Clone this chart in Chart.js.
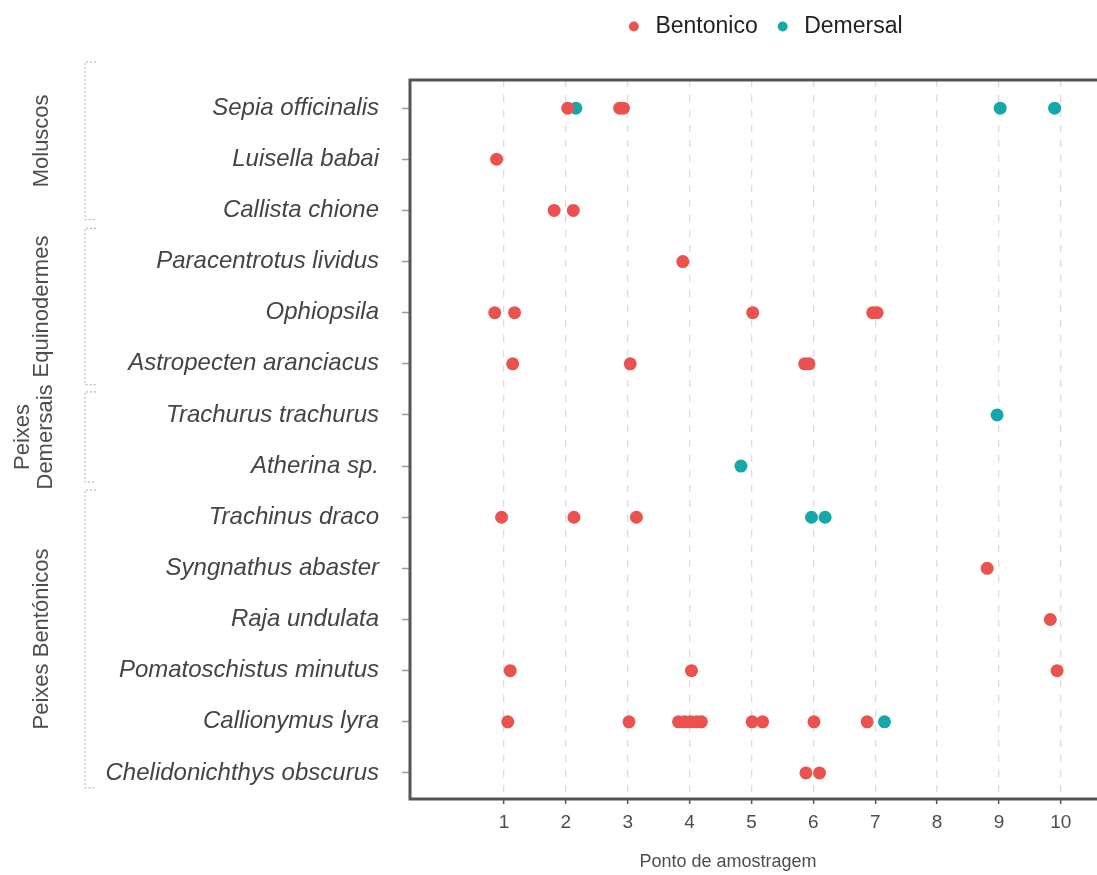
<!DOCTYPE html>
<html>
<head>
<meta charset="utf-8">
<script src="https://cdn.jsdelivr.net/npm/chart.js@4.4.1/dist/chart.umd.min.js"></script>
<style>
  html, body { margin: 0; padding: 0; background: #fff; overflow: hidden; }
</style>
</head>
<body>
<canvas id="chart" width="1097" height="875"></canvas>
<script>
const species = [
  'Sepia officinalis', 'Luisella babai', 'Callista chione',
  'Paracentrotus lividus', 'Ophiopsila', 'Astropecten aranciacus',
  'Trachurus trachurus', 'Atherina sp.',
  'Trachinus draco', 'Syngnathus abaster', 'Raja undulata',
  'Pomatoschistus minutus', 'Callionymus lyra', 'Chelidonichthys obscurus'
];
// sampling points per species, one list per row
const bentonico = [
  [2.03, 2.87, 2.93], [0.88], [1.81, 2.12],
  [3.89], [0.85, 1.17, 5.02, 6.96, 7.03], [1.14, 3.04, 5.86, 5.93],
  [], [],
  [0.96, 2.13, 3.14], [8.81], [9.83],
  [1.10, 4.03, 9.94],
  [1.06, 3.02, 3.82, 3.92, 4.01, 4.11, 4.19, 5.01, 5.18, 6.01, 6.87],
  [5.88, 6.10]
];
const demersal = [
  [2.16, 9.02, 9.90], [], [],
  [], [], [],
  [8.97], [4.83],
  [5.97, 6.19], [], [],
  [],
  [7.15],
  []
];
const xTicks = [1, 2, 3, 4, 5, 6, 7, 8, 9, 10];
const xTitle = 'Ponto de amostragem';
const groups = [['Moluscos'], ['Equinodermes'], ['Peixes', 'Demersais'], ['Peixes Bentónicos']];
const groupRows = [[-0.9, 2.18], [2.35, 5.41], [5.55, 7.31], [7.47, 13.29]];

const font = '"Liberation Sans", Arial, sans-serif';
const textColor = '#4d4d4d';

function toPoints(rows) {
  const pts = [];
  rows.forEach((xs, i) => xs.forEach(x => pts.push({x: x, y: i})));
  return pts;
}

// extra room under the legend, and nudge it a bit to the right
const legendGap = {
  id: 'legendGap',
  beforeInit(chart) {
    const fit = chart.legend.fit;
    chart.legend.fit = function () {
      fit.bind(chart.legend)();
      this.height += 32;
    };
  },
  afterLayout(chart) {
    chart.legend.left += 13;
    chart.legend.right += 13;
  }
};

const frame = {
  id: 'frame',
  afterDatasetsDraw(chart) {
    const {ctx, chartArea: a} = chart;
    ctx.save();
    ctx.strokeStyle = '#555';
    ctx.lineWidth = 3;
    ctx.beginPath();
    ctx.moveTo(chart.width, a.top);
    ctx.lineTo(a.left, a.top);
    ctx.lineTo(a.left, a.bottom);
    ctx.lineTo(chart.width, a.bottom);
    ctx.stroke();
    ctx.restore();
  }
};

const brackets = {
  id: 'brackets',
  afterDraw(chart) {
    const {ctx} = chart;
    const y = chart.scales.y;
    ctx.save();
    groups.forEach((lines, i) => {
      const y1 = y.getPixelForValue(groupRows[i][0]);
      const y2 = y.getPixelForValue(groupRows[i][1]);
      ctx.strokeStyle = '#a8a8a8';
      ctx.lineWidth = 1;
      ctx.setLineDash([2, 2]);
      ctx.beginPath();
      ctx.moveTo(96, y1); ctx.lineTo(85, y1); ctx.lineTo(85, y2); ctx.lineTo(96, y2);
      ctx.stroke();
      ctx.setLineDash([]);
      ctx.fillStyle = textColor;
      ctx.font = '22px ' + font;
      ctx.textAlign = 'center';
      ctx.textBaseline = 'middle';
      const cx = lines.length > 1 ? 34 : 42;
      ctx.save();
      ctx.translate(cx, (y1 + y2) / 2);
      ctx.rotate(-Math.PI / 2);
      lines.forEach((t, k) => ctx.fillText(t, 0, (k - (lines.length - 1) / 2) * 23));
      ctx.restore();
    });
    // x axis title
    ctx.fillStyle = textColor;
    ctx.font = '18px ' + font;
    ctx.textAlign = 'center';
    ctx.textBaseline = 'middle';
    ctx.fillText(xTitle, 728, 862);
    ctx.restore();
  }
};

new Chart(document.getElementById('chart'), {
  type: 'scatter',
  data: {
    datasets: [
      {label: 'Bentonico', data: toPoints(bentonico), backgroundColor: '#ea5250', borderWidth: 0, pointRadius: 6.5},
      {label: 'Demersal', data: toPoints(demersal), backgroundColor: '#16a7ab', borderWidth: 0, pointRadius: 6.5}
    ]
  },
  options: {
    responsive: false,
    animation: false,
    layout: {padding: {top: 0, left: 0, right: 0, bottom: 0}},
    scales: {
      x: {
        type: 'linear', min: -0.52, max: 10.48,
        afterBuildTicks: s => { s.ticks = xTicks.map(v => ({value: v})); },
        afterFit: s => { s.height = 76; },
        grid: {color: '#dcdcdc', lineWidth: 1.3, tickLength: 5, tickColor: '#555', tickWidth: 1.5},
        border: {display: false, dash: [7, 8]},
        ticks: {color: textColor, font: {family: font, size: 19}, padding: 7, maxRotation: 0, autoSkip: false}
      },
      y: {
        type: 'linear', reverse: true, min: -0.55, max: 13.51,
        afterBuildTicks: s => { s.ticks = species.map((_, i) => ({value: i})); },
        afterFit: s => { s.width = 410; },
        grid: {drawOnChartArea: false, tickLength: 8, tickColor: '#999', tickWidth: 1.5},
        border: {display: false},
        ticks: {callback: v => species[v], color: '#444', autoSkip: false, padding: 23,
                font: {family: font, size: 24, style: 'italic'}}
      }
    },
    plugins: {
      legend: {
        position: 'top', fullSize: false, align: 'center',
        labels: {usePointStyle: true, pointStyle: 'circle', boxWidth: 20, boxHeight: 7,
                 padding: 15, color: '#222', font: {family: font, size: 23}}
      },
      tooltip: {enabled: false}
    }
  },
  plugins: [legendGap, frame, brackets]
});
</script>
</body>
</html>
